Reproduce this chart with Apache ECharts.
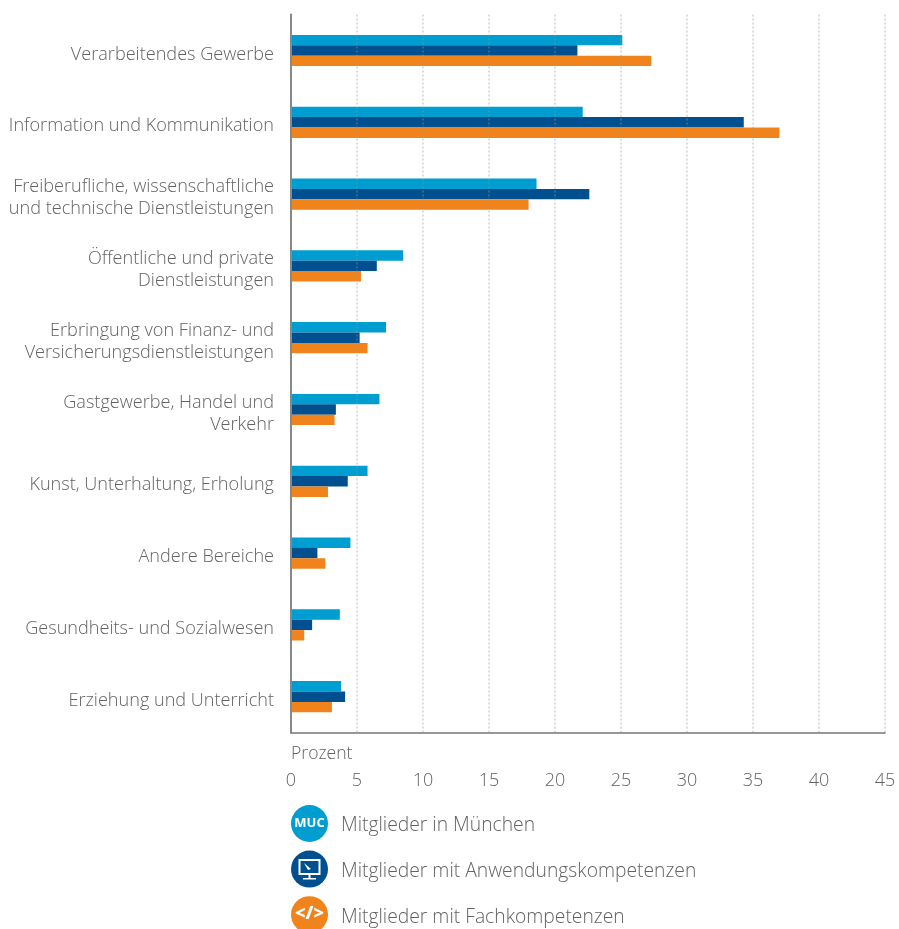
<!DOCTYPE html>
<html><head><meta charset="utf-8">
<style>html,body{margin:0;padding:0;background:#fff}#c{width:899px;height:929px}</style>
<script src="https://cdn.jsdelivr.net/npm/echarts@6/dist/echarts.min.js"></script>
</head><body><div id="c"></div>
<script>
const categories = ["Verarbeitendes Gewerbe","Information und Kommunikation","Freiberufliche, wissenschaftliche\nund technische Dienstleistungen","Öffentliche und private\nDienstleistungen","Erbringung von Finanz- und\nVersicherungsdienstleistungen","Gastgewerbe, Handel und\nVerkehr","Kunst, Unterhaltung, Erholung","Andere Bereiche","Gesundheits- und Sozialwesen","Erziehung und Unterricht"];
const muenchen = [25.1,22.1,18.6,8.5,7.2,6.7,5.8,4.5,3.7,3.8];
const anwendung = [21.7,34.3,22.6,6.5,5.2,3.4,4.3,2.0,1.6,4.1];
const fach = [27.3,37.0,18.0,5.3,5.8,3.3,2.8,2.6,1.0,3.1];
const seriesNames = ["Mitglieder in München","Mitglieder mit Anwendungskompetenzen","Mitglieder mit Fachkompetenzen"];
const colors = ["#009dd1","#00508f","#f0831c"];
const FONT = '"Open Sans"';
const TXT = '#636363';
const chart = echarts.init(document.getElementById('c'),null,{renderer:'canvas'});
const glyph = (o)=>Object.assign({z:100,silent:true},o);
const catStyle = {fontFamily:FONT,fontWeight:300,fontSize:18.1,lineHeight:22,color:TXT,align:'right',padding:[8,0,0,0]};
chart.setOption({
  animation:false,
  grid:{left:291,right:14,top:14.6,bottom:196.4,containLabel:false},
  legend:{show:true,orient:'vertical',left:291,top:805,padding:0,height:140,itemWidth:37,itemHeight:37,itemGap:8.6,icon:'circle',selectedMode:false,
    formatter:n=>`{a|${n}}`,
    textStyle:{fontFamily:FONT,fontWeight:300,fontSize:19.3,color:TXT,
      rich:{a:{fontFamily:FONT,fontWeight:300,fontSize:19.3,color:TXT,padding:[5,0,0,8]}}},data:seriesNames},
  xAxis:{type:'value',min:0,max:45,interval:5,z:3,
    name:'Prozent',nameLocation:'start',nameGap:0,
    nameTextStyle:{fontFamily:FONT,fontWeight:300,fontSize:17.6,color:TXT,align:'left',verticalAlign:'top',padding:[12,0,0,0]},
    axisLine:{show:true,lineStyle:{color:'#777',width:1.5}},axisTick:{show:false},
    axisLabel:{margin:39,fontFamily:FONT,fontWeight:300,fontSize:18,color:TXT},
    splitLine:{show:true,lineStyle:{color:'rgba(150,150,150,0.45)',width:1.5,type:[2,2]}}},
  yAxis:{type:'category',inverse:true,data:categories,z:3,
    axisLine:{show:true,lineStyle:{color:'#888',width:2}},axisTick:{show:false},
    axisLabel:{margin:17,align:'right',verticalAlign:'middle',
      formatter:v=>v.split('\n').map(l=>`{s|${l}}`).join('\n'),
      rich:{s:catStyle}}},
  series:[muenchen,anwendung,fach].map((d,i)=>({type:'bar',name:seriesNames[i],data:d,barWidth:10.4,barGap:0,itemStyle:{color:colors[i]}})),
  graphic:[
    glyph({type:'text',x:309.5,y:823.5,style:{text:'MUC',fontFamily:'"Open Sans"',fontWeight:700,fontSize:13,fill:'#fff',align:'center',verticalAlign:'middle'}}),
    glyph({type:'rect',shape:{x:299.5,y:860,width:20,height:14},style:{fill:'none',stroke:'#fff',lineWidth:2}}),
    glyph({type:'polygon',shape:{points:[[304,863],[311,869],[308,870]]},style:{fill:'#fff'}}),
    glyph({type:'rect',shape:{x:308.5,y:875,width:2,height:3},style:{fill:'#fff'}}),
    glyph({type:'rect',shape:{x:303,y:878,width:13,height:1.5},style:{fill:'#fff'}}),
    glyph({type:'text',x:309.5,y:914,style:{text:'</>',fontFamily:'"Open Sans"',fontWeight:800,fontSize:18,fill:'#fff',align:'center',verticalAlign:'middle'}})
  ]
});
</script></body></html>
